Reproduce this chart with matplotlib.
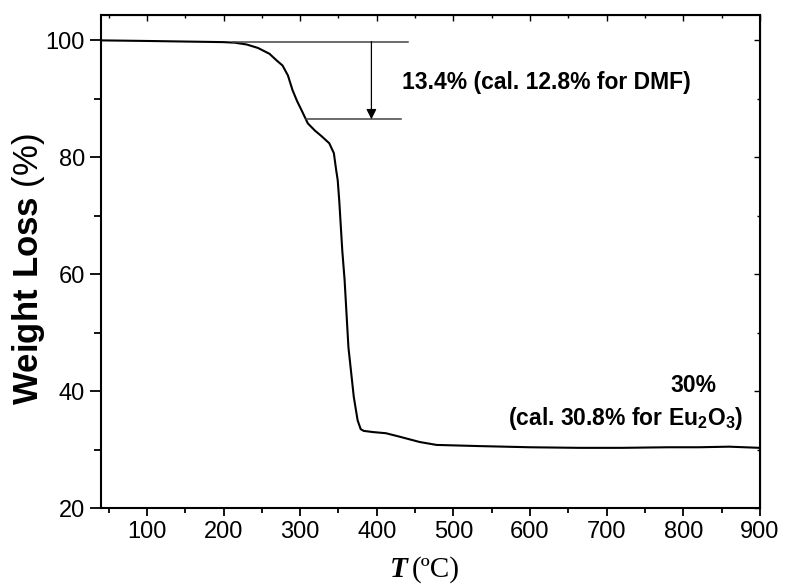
import numpy as np
import matplotlib.pyplot as plt
from matplotlib.ticker import MultipleLocator

plt.rcParams['font.family'] = ['Liberation Sans', 'DejaVu Sans']
plt.rcParams['mathtext.fontset'] = 'custom'
plt.rcParams['mathtext.rm'] = 'Liberation Sans'
plt.rcParams['mathtext.bf'] = 'Liberation Sans:bold'

# TGA curve
temp = [40, 100, 150, 200, 215, 230, 245, 260, 269, 277, 284, 290, 296, 302,
        310, 319, 328, 338, 344, 347, 349, 351, 355, 358, 363, 370, 375, 379,
        383, 395, 412, 430, 456, 478, 534, 600, 664, 720, 780, 820, 860, 900]
weight = [100.0, 99.9, 99.8, 99.7, 99.6, 99.3, 98.7, 97.7, 96.6, 95.7, 94.0,
          91.5, 89.6, 88.0, 85.8, 84.6, 83.6, 82.4, 80.7, 77.8, 76.1, 72.6,
          64.0, 59.0, 47.5, 39.0, 35.0, 33.5, 33.2, 33.0, 32.8, 32.2, 31.3,
          30.8, 30.6, 30.4, 30.3, 30.3, 30.4, 30.4, 30.5, 30.3]

# DMF step marker
step_top = 99.8
step_bot = 86.5
arrow_x = 393

fig = plt.figure(figsize=(7.89, 5.86), dpi=100)
ax = fig.add_axes([0.128, 0.133, 0.835, 0.841])

ax.plot(temp, weight, color='black', lw=1.5)

ax.plot([212, 441], [step_top, step_top], color='#444444', lw=1.1)
ax.plot([308, 432], [step_bot, step_bot], color='#444444', lw=1.1)
ax.annotate('', xy=(arrow_x, step_bot), xytext=(arrow_x, step_top),
            arrowprops=dict(arrowstyle='-|>', color='black', lw=0.9,
                            mutation_scale=15, shrinkA=0, shrinkB=0))

ax.text(433, 92.8, '13.4% (cal. 12.8% for DMF)', fontsize=16.5,
        fontweight='bold', va='center', ha='left')
ax.text(844, 41.0, '30%', fontsize=16.5, fontweight='bold',
        va='center', ha='right')
ax.text(879, 35.4, r'(cal. 30.8% for Eu$_\mathbf{2}$O$_\mathbf{3}$)',
        fontsize=16.5, fontweight='bold', va='center', ha='right')

ax.set_xlim(40, 900)
ax.set_ylim(20, 104.3)
ax.xaxis.set_major_locator(MultipleLocator(100))
ax.xaxis.set_minor_locator(MultipleLocator(50))
ax.yaxis.set_major_locator(MultipleLocator(20))
ax.yaxis.set_minor_locator(MultipleLocator(10))
ax.tick_params(which='both', direction='out', labelsize=17, width=1.3)
ax.tick_params(axis='y', which='major', length=8)
ax.tick_params(axis='y', which='minor', length=5)
ax.tick_params(axis='x', which='major', length=6)
ax.tick_params(axis='x', which='minor', length=3.5)
for s in ax.spines.values():
    s.set_linewidth(1.5)

top = ax.secondary_xaxis('top')
top.xaxis.set_major_locator(MultipleLocator(100))
top.xaxis.set_minor_locator(MultipleLocator(50))
top.tick_params(which='both', direction='in', labeltop=False, width=1)
top.tick_params(which='major', length=4)
top.tick_params(which='minor', length=2)
right = ax.secondary_yaxis('right')
right.yaxis.set_major_locator(MultipleLocator(20))
right.yaxis.set_minor_locator(MultipleLocator(10))
right.tick_params(which='both', direction='in', labelright=False, width=1)
right.tick_params(which='major', length=4)
right.tick_params(which='minor', length=2)

fig.text(0.036, 0.54, r'$\mathbf{Weight\ Loss}$ (%)', fontsize=25,
         rotation=90, ha='center', va='center')
fig.text(0.494, 0.0154, 'T', family='Liberation Serif', fontsize=21,
         fontweight='bold', style='italic', ha='left', va='baseline')
fig.text(0.522, 0.0154, '(\u00baC)', family='Liberation Serif', fontsize=21,
         ha='left', va='baseline')

fig.savefig('out.png', dpi=100)
